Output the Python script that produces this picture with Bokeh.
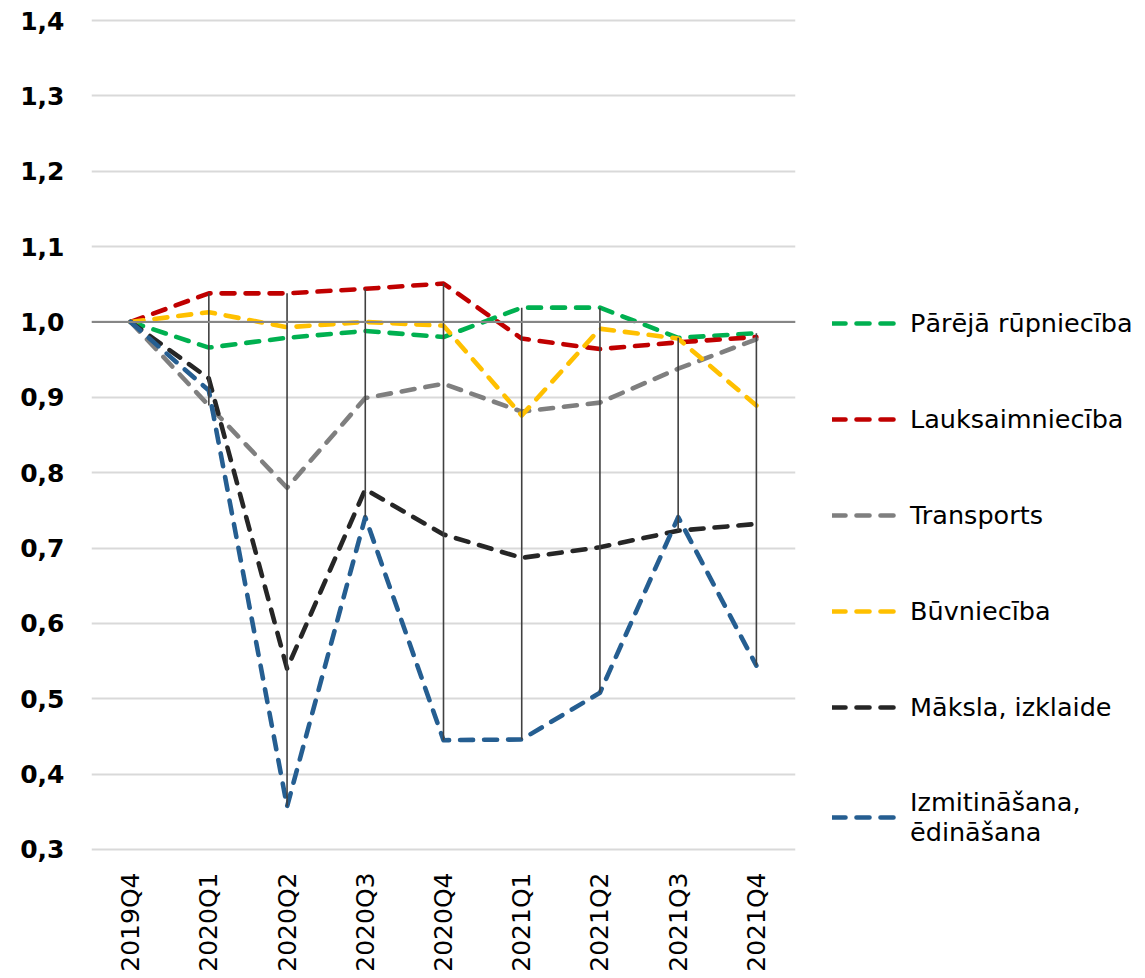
import math
import numpy as np
from bokeh.plotting import figure
from bokeh.models import (FactorRange, Range1d, FixedTicker, Legend, LegendItem,
                          Span, ColumnDataSource)
from bokeh.embed import file_html
from bokeh.resources import INLINE

# ---- data ----
quarters = ["2019Q4", "2020Q1", "2020Q2", "2020Q3", "2020Q4",
            "2021Q1", "2021Q2", "2021Q3", "2021Q4"]

parejā_rupniecība = [1.000, 0.966, 0.979, 0.988, 0.980, 1.019, 1.019, 0.979, 0.985]
lauksaimniecība   = [1.000, 1.038, 1.038, 1.044, 1.051, 0.978, 0.964, 0.973, 0.980]
transports        = [1.000, 0.889, 0.780, 0.899, 0.918, 0.881, 0.893, 0.938, 0.977]
būvniecība        = [1.000, 1.013, 0.993, 1.000, 0.995, 0.876, 0.991, 0.978, 0.889]
māksla_izklaide   = [1.000, 0.925, 0.540, 0.778, 0.718, 0.687, 0.701, 0.723, 0.732]
izmitināšana      = [1.000, 0.909, 0.357, 0.741, 0.445, 0.446, 0.508, 0.741, 0.544]

series_names = ["Pārējā rūpniecība", "Lauksaimniecība", "Transports",
                "Būvniecība", "Māksla, izklaide", "Izmitināšana,\nēdināšana"]
series_values = [parejā_rupniecība, lauksaimniecība, transports,
                 būvniecība, māksla_izklaide, izmitināšana]
series_colors = ["#00B050", "#C00000", "#7F7F7F", "#FFC000", "#262626", "#255E91"]

y_ticks = [0.3, 0.4, 0.5, 0.6, 0.7, 0.8, 0.9, 1.0, 1.1, 1.2, 1.3, 1.4]
y_tick_labels = ["0,3", "0,4", "0,5", "0,6", "0,7", "0,8", "0,9",
                 "1,0", "1,1", "1,2", "1,3", "1,4"]

FONT = "DejaVu Sans"
PAD = 0.0027  # small padding so the 0,3 and 1,4 gridlines are drawn inside the frame

p = figure(x_range=FactorRange(*quarters, range_padding=0),
           y_range=Range1d(y_ticks[0] - PAD, y_ticks[-1] + PAD),
           frame_width=704, frame_height=833,
           min_border_left=91, min_border_right=345,
           min_border_top=18, min_border_bottom=122,
           output_backend="svg", toolbar_location=None,
           outline_line_color=None, background_fill_color="white",
           border_fill_color="white")

# grid
p.xgrid.grid_line_color = None
p.ygrid.grid_line_color = "#D9D9D9"
p.ygrid.grid_line_width = 2
p.yaxis.ticker = FixedTicker(ticks=y_ticks)
p.yaxis.major_label_overrides = dict(zip(y_ticks, y_tick_labels))

# axes
for ax in (p.xaxis, p.yaxis):
    ax.axis_line_color = None
    ax.major_tick_line_color = None
    ax.minor_tick_line_color = None
    ax.major_tick_out = 0
    ax.major_tick_in = 0
    ax.minor_tick_out = 0
p.yaxis.major_label_text_font = FONT
p.yaxis.major_label_text_font_style = "bold"
p.yaxis.major_label_text_font_size = "25px"
p.yaxis.major_label_text_color = "black"
p.yaxis.major_label_standoff = 27

p.xaxis.major_label_orientation = math.pi / 2
p.xaxis.major_label_text_font = FONT
p.xaxis.major_label_text_font_size = "25px"
p.xaxis.major_label_text_color = "black"
p.xaxis.major_label_standoff = 21

# horizontal axis line at 1,0
p.add_layout(Span(location=1.0, dimension="width", line_color="#868686", line_width=2))

items = []
for name, vals, col in zip(series_names, series_values, series_colors):
    r = p.line(x=quarters, y=vals, line_color=col, line_width=4.6,
               line_dash="13 11", line_cap="round", line_join="round")
    items.append(LegendItem(label=name, renderers=[r]))

# high-low lines
arr = np.array(series_values)
hl = ColumnDataSource(dict(x=quarters, lo=arr.min(axis=0), hi=arr.max(axis=0)))
p.segment(x0="x", y0="lo", x1="x", y1="hi", source=hl,
          line_color="#404040", line_width=1.6)

legend = Legend(items=items, location=(37, 4), orientation="vertical",
                label_text_font=FONT, label_text_font_size="25.5px",
                label_text_color="black",
                glyph_width=65, glyph_height=32, label_height=32,
                label_standoff=13, spacing=64, padding=0, margin=0,
                border_line_color=None, background_fill_alpha=0)
p.add_layout(legend, "right")

open("out.html", "w").write(file_html(p, INLINE))
